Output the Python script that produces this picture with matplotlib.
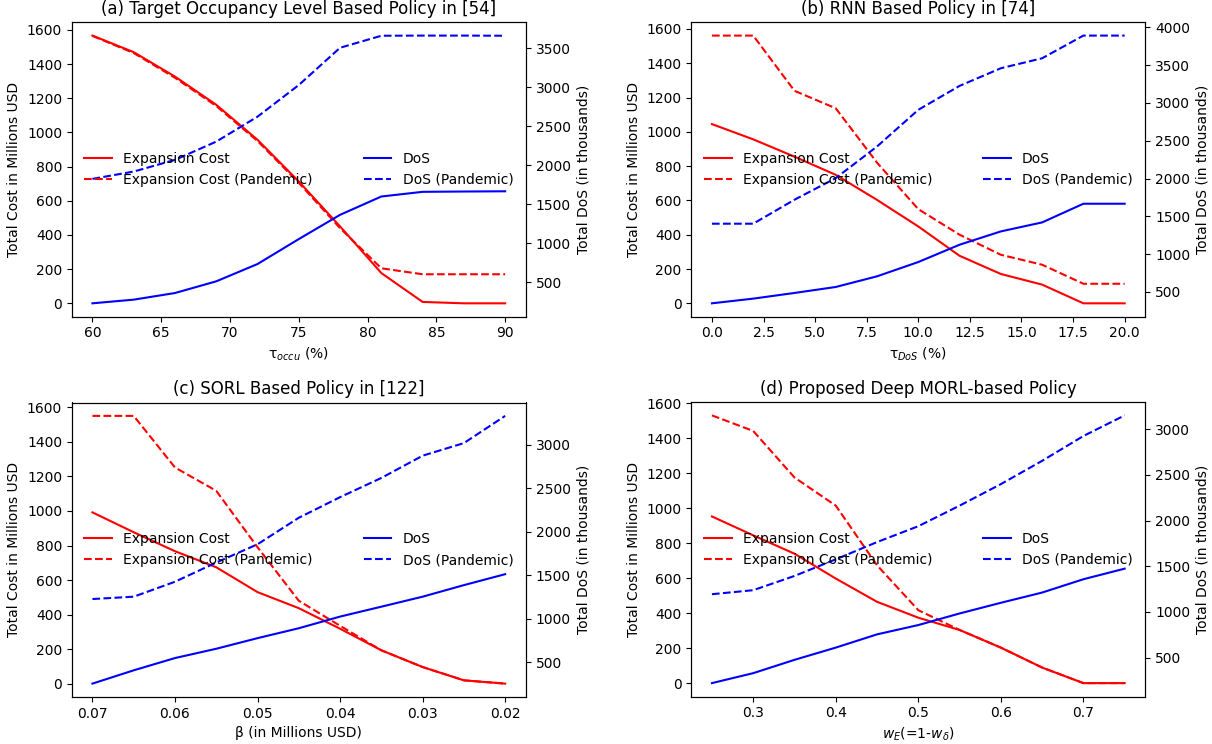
import numpy as np
import matplotlib
matplotlib.use("Agg")
import matplotlib.pyplot as plt
from matplotlib.ticker import MultipleLocator

# (a) Target occupancy level
x_a = [60, 63, 66, 69, 72, 75, 78, 81, 84, 87, 90]
cost_a = [1567, 1470, 1327, 1162, 957, 713, 450, 177, 8, 0, 0]
cost_a_pan = [1565, 1465, 1320, 1155, 950, 705, 440, 205, 170, 170, 170]
dos_a = [231, 278, 363, 513, 735, 1055, 1366, 1601, 1661, 1665, 1668]
dos_a_pan = [1827, 1921, 2071, 2305, 2625, 3031, 3509, 3663, 3665, 3665, 3663]

# (b) RNN
x_b = [0, 2, 4, 6, 8, 10, 12, 14, 16, 18, 20]
cost_b = [1045, 956, 855, 749, 603, 448, 277, 171, 109, 0, 0]
cost_b_pan = [1561, 1561, 1239, 1137, 820, 549, 400, 283, 225, 114, 114]
dos_b = [350, 412, 487, 566, 707, 896, 1125, 1301, 1420, 1667, 1667]
dos_b_pan = [1403, 1403, 1720, 2006, 2424, 2909, 3226, 3459, 3591, 3891, 3891]

# (c) SORL
x_c = [0.07, 0.065, 0.06, 0.055, 0.05, 0.045, 0.04, 0.035, 0.03, 0.025, 0.02]
cost_c = [992, 877, 767, 674, 530, 437, 318, 193, 96, 19, 0]
cost_c_pan = [1551, 1551, 1252, 1117, 790, 480, 335, 193, 96, 19, 0]
dos_c = [252, 405, 546, 653, 775, 889, 1023, 1137, 1252, 1385, 1511]
dos_c_pan = [1225, 1252, 1424, 1645, 1855, 2160, 2397, 2618, 2874, 3019, 3332]

# (d) Deep MORL
x_d = [0.25, 0.3, 0.35, 0.4, 0.45, 0.5, 0.55, 0.6, 0.65, 0.7, 0.75]
cost_d = [953, 845, 740, 598, 465, 374, 304, 203, 89, 0, 0]
cost_d_pan = [1531, 1442, 1176, 1015, 674, 417, 304, 203, 89, 0, 0]
dos_d = [220, 329, 475, 609, 754, 856, 983, 1100, 1212, 1358, 1474]
dos_d_pan = [1194, 1238, 1394, 1576, 1765, 1939, 2164, 2400, 2655, 2927, 3153]

titles = ['(a) Target Occupancy Level Based Policy in [54]',
          '(b) RNN Based Policy in [74]',
          '(c) SORL Based Policy in [122]',
          '(d) Proposed Deep MORL-based Policy']
xlabels = ['τ$_{occu}$ (%)', 'τ$_{DoS}$ (%)', 'β (in Millions USD)',
           '$w_E$(=1-$w_\\delta$)']


def panel(fig, rect, x, cost, cost_pan, dos, dos_pan, title, xlabel, invert=False):
    ax = fig.add_axes(rect)
    ax.plot(x, cost, 'r-', lw=1.5, label='Expansion Cost')
    ax.plot(x, cost_pan, 'r--', lw=1.5, label='Expansion Cost (Pandemic)')
    ax.set_ylabel('Total Cost in Millions USD', fontsize=10)
    ax.set_xlabel(xlabel, fontsize=10)
    ax.set_title(title, fontsize=12)
    ax.yaxis.set_major_locator(MultipleLocator(200))
    if invert:
        ax.invert_xaxis()

    ax2 = ax.twinx()
    ax2.plot(x, dos, 'b-', lw=1.5, label='DoS')
    ax2.plot(x, dos_pan, 'b--', lw=1.5, label='DoS (Pandemic)')
    ax2.set_ylabel('Total DoS (in thousands)', fontsize=10)
    ax2.yaxis.set_major_locator(MultipleLocator(500))

    h1, l1 = ax.get_legend_handles_labels()
    h2, l2 = ax2.get_legend_handles_labels()
    ax2.legend(h1 + h2, l1 + l2, loc='center', ncol=2, mode='expand',
               frameon=False, fontsize=10)
    for a in (ax, ax2):
        a.tick_params(labelsize=10)
    return ax, ax2


def main():
    fig = plt.figure(figsize=(12.12, 7.44), dpi=100)
    W, H = 1212.0, 744.0
    w, h = 454.0 / W, 294.5 / H
    rects = [[71.8 / W, 1 - 316.7 / H, w, h],
             [691.3 / W, 1 - 316.7 / H, w, h],
             [71.8 / W, 1 - 697.0 / H, w, h],
             [691.3 / W, 1 - 696.5 / H, w, h]]

    panel(fig, rects[0], x_a, cost_a, cost_a_pan, dos_a, dos_a_pan, titles[0], xlabels[0])
    panel(fig, rects[1], x_b, cost_b, cost_b_pan, dos_b, dos_b_pan, titles[1], xlabels[1])
    panel(fig, rects[2], x_c, cost_c, cost_c_pan, dos_c, dos_c_pan, titles[2], xlabels[2], invert=True)
    panel(fig, rects[3], x_d, cost_d, cost_d_pan, dos_d, dos_d_pan, titles[3], xlabels[3])

    fig.savefig('out.png', dpi=100)


if __name__ == '__main__':
    main()
